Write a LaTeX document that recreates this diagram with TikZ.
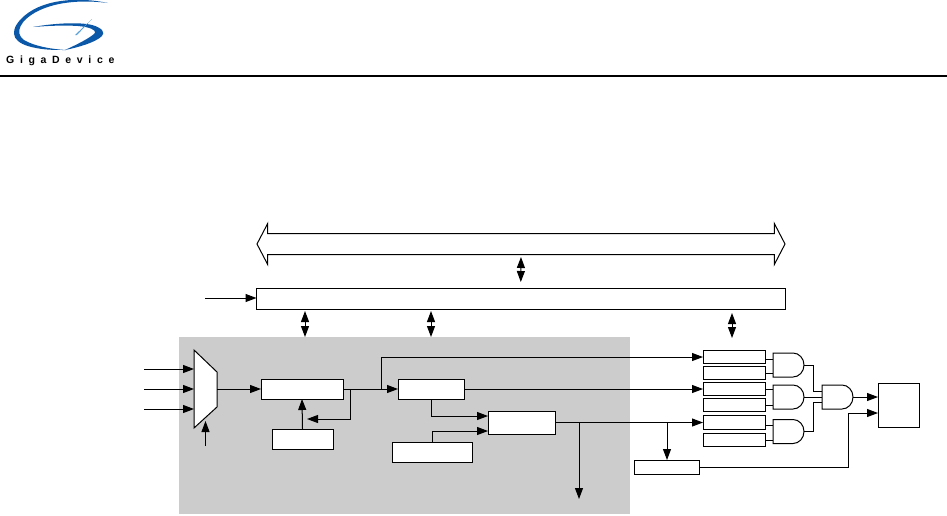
\documentclass[tikz,border=0pt]{standalone}
\usepackage{fontspec}
\usepackage{tikz}
\usetikzlibrary{arrows.meta,shapes.arrows}
\definecolor{shadegray}{RGB}{204,204,204}
\definecolor{logoblue}{RGB}{12,88,168}
\definecolor{logolight}{RGB}{90,160,215}
\tikzset{
	>={Triangle[length=11pt,width=8pt]},
	wire/.style={line width=1pt},
	blockbox/.style={draw, line width=1pt, fill=white, inner sep=0pt, outer sep=0pt},
	regbox/.style={blockbox, minimum width=62pt, minimum height=12.5pt},
	andbox/.style={inner sep=0pt, outer sep=0pt, anchor=west, minimum width=31pt, minimum height=24pt,
		append after command={
			\pgfextra{\draw[wire] (\tikzlastnode.north west) -- ++(20,0) arc[start angle=90,end angle=-90,x radius=11pt,y radius=12pt] -- (\tikzlastnode.south west) -- cycle;}
		}}
}
\begin{document}
\begin{tikzpicture}[x=1pt,y=-1pt]
	\useasboundingbox (0,0) rectangle (947,515);

	\fill[logoblue] (108,3) .. controls (80,-3) and (40,-2) .. (20,20) .. controls (8,34) and (14,44) .. (36,48) .. controls (46,50) and (56,50) .. (66,50) .. controls (50,49) and (34,46) .. (24,40) .. controls (14,33) and (20,20) .. (38,11) .. controls (58,1) and (85,0) .. (108,3) -- cycle;
	\fill[logoblue] (33,27) .. controls (55,23) and (80,22) .. (92,25) .. controls (103,28) and (105,33) .. (102,36) .. controls (96,42) and (80,47) .. (65,50) .. controls (78,44) and (90,38) .. (95,33) .. controls (96,30) and (90,27) .. (78,26) .. controls (62,25) and (46,26) .. (33,27) -- cycle;
	\fill[logolight] (92,19) -- (77,35) -- (75,35) -- cycle;
	\node[anchor=west, inner sep=0pt] (brand) at (6,61) {\fontspec{Liberation Sans Bold}[LetterSpace=54]\fontsize{10.5pt}{11pt}\selectfont GigaDevice};
	\draw[line width=2pt] (0,76) -- (947,76);

	\node[fill=shadegray, inner sep=0pt, minimum width=451pt, minimum height=177pt] (timer) at (404.5,425.5) {};
	\node[double arrow, draw, line width=1pt, inner sep=0pt, minimum width=40pt, minimum height=528pt, double arrow head extend=10pt, double arrow tip angle=125, inner ysep=10pt] (bus) at (521,244) {};
	\node[blockbox, minimum width=528.5pt, minimum height=21pt] (iface) at (520.75,298.5) {};

	\coordinate (clockin) at (205,298);
	\draw[wire,->] (clockin) -- (iface.west |- clockin);
	\draw[wire,<->,shorten <=2pt,shorten >=6pt] (bus.south) -- (iface.north);
	\coordinate (portA) at (305,337);
	\coordinate (portB) at (431,337);
	\coordinate (portC) at (732,338);
	\draw[wire,<->,shorten <=2pt] (iface.south -| portA) -- (portA);
	\draw[wire,<->,shorten <=2pt] (iface.south -| portB) -- (portB);
	\draw[wire,<->,shorten <=4pt] (iface.south -| portC) -- (portC);

	\draw[blockbox] (194,350) coordinate (muxtop) -- (217,372) -- (217,407) -- (194,428) coordinate (muxbot) -- cycle;
	\coordinate (inA) at (144,369);
	\coordinate (inB) at (144,389);
	\coordinate (inC) at (144,409);
	\coordinate (muxout) at (217,389);
	\coordinate (selin) at (205.5,446);
	\coordinate (seltip) at (205.5,421);
	\draw[wire,->] (inA) -- (inA -| muxtop);
	\draw[wire,->] (inB) -- (inB -| muxtop);
	\draw[wire,->] (inC) -- (inC -| muxtop);
	\draw[wire,->] (selin) -- (seltip);

	\node[blockbox, minimum width=82pt, minimum height=20pt] (counter) at (302,389) {};
	\node[blockbox, minimum width=61pt, minimum height=20pt] (presc) at (302.5,439) {};
	\node[blockbox, minimum width=66pt, minimum height=20pt] (shadow) at (431,389) {};
	\node[blockbox, minimum width=67pt, minimum height=23pt] (compare) at (521.5,422.5) {};
	\node[blockbox, minimum width=80pt, minimum height=20pt] (deadtime) at (432,452) {};
	\node[blockbox, minimum width=65pt, minimum height=14pt] (brake) at (666.5,467) {};
	\node[blockbox, minimum width=41pt, minimum height=44pt] (output) at (898.5,405) {};

	\draw[wire,->] (muxout) -- (counter.west);
	\draw[wire,->] (presc.north) -- (counter.south);
	\coordinate (fbtop) at (350,389);
	\coordinate (fbtip) at (307,419);
	\draw[wire,->] (fbtop) |- (fbtip);
	\draw[wire,->] (counter.east) -- (shadow.west);
	\coordinate (uptap) at (381,389);
	\coordinate (comptop) at (431,416);
	\coordinate (compbot) at (431.5,431);

	\node[regbox] (regA) at (734,357) {};
	\node[regbox] (regB) at (734,373) {};
	\node[regbox] (regC) at (734,389) {};
	\node[regbox] (regD) at (734,405) {};
	\node[regbox, minimum height=14pt] (regE) at (734,422.5) {};
	\node[regbox] (regF) at (734,440) {};

	\draw[wire,->] (uptap) |- (regA.west);
	\draw[wire,->] (shadow.east) -- (regC.west);
	\draw[wire,->] (shadow.south) |- (comptop -| compare.west);
	\draw[wire,->] (deadtime.north) |- (compbot -| compare.west);
	\draw[wire,->] (compare.east) -- (regE.west);
	\coordinate (downtap) at (579,422.5);
	\coordinate (downend) at (579,499);
	\coordinate (braketap) at (667,422.5);
	\draw[wire,->] (downtap) -- (downend);
	\draw[wire,->] (braketap) -- (brake.north -| braketap);

	\node[andbox] (gateA) at (773,365) {};
	\node[andbox] (gateB) at (773,397) {};
	\node[andbox] (gateC) at (773,431.5) {};
	\node[andbox] (gateD) at (822,397) {};

	\draw[wire] ([yshift=-2pt]regA.east) -- ([yshift=-2pt]regA.east -| gateA.west);
	\draw[wire] (regB.east) -- (regB.east -| gateA.west);
	\draw[wire] (regC.east) -- (regC.east -| gateB.west);
	\draw[wire] (regD.east) -- (regD.east -| gateB.west);
	\draw[wire] ([yshift=-2.5pt]regE.east) -- ([yshift=-2.5pt]regE.east -| gateC.west);
	\draw[wire] (regF.east) -- (regF.east -| gateC.west);
	\coordinate (joint) at (813,397);
	\draw[wire] (gateA.east) -| ([yshift=5.5pt]joint) -- ([yshift=5.5pt]joint -| gateD.west);
	\draw[wire] (gateB.east) -- (gateD.west);
	\draw[wire] (gateC.east) -| ([yshift=-5.5pt]joint) -- ([yshift=-5.5pt]joint -| gateD.west);
	\draw[wire,->] (gateD.east) -- (output.west |- gateD.east);
	\coordinate (brakeup) at (848,413);
	\draw[wire] (brake.east) -| (brakeup);
	\draw[wire,->] (brakeup) -- (output.west |- brakeup);
\end{tikzpicture}
\end{document}
